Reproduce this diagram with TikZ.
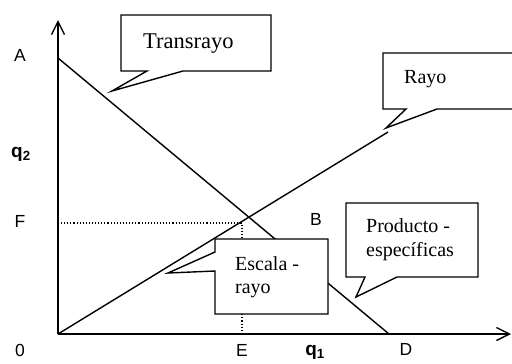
\documentclass[tikz,border=0pt]{standalone}
\usepackage{fontspec}
\setmainfont{Liberation Serif}
\setsansfont{Liberation Sans}
\usetikzlibrary{arrows.meta}
\tikzset{
  axisline/.style={line width=1.4bp, -{Straight Barb[length=13bp,width=13bp,line width=1.4bp]}},
  curveline/.style={line width=1.4bp},
  guide/.style={line width=1.1bp, dotted},
  callout/.style={line width=1.4bp, fill=white, line join=miter},
  calltext/.style={anchor=base west, inner sep=0pt, font=\fontsize{20bp}{24bp}\selectfont, align=left},
  axlabel/.style={inner sep=0pt, font=\sffamily\fontsize{17.5bp}{20bp}\selectfont},
  qlabel/.style={inner sep=0pt, font=\sffamily\bfseries\fontsize{19bp}{21bp}\selectfont},
}
\begin{document}
\begin{tikzpicture}[x=1bp,y=-1bp]
\useasboundingbox (0,0) rectangle (512,363);
\clip (0,0) rectangle (512,363);
% points
\coordinate (O) at (58,334);
\coordinate (Ytop) at (58,20);
\coordinate (Xend) at (511,334);
\coordinate (Apt) at (58,58);
\coordinate (Dpt) at (389,334);
\coordinate (Rend) at (388,132);
\coordinate (Fd) at (58,223);
\coordinate (Bd) at (242,223);
\coordinate (Ed) at (242,334);
% axes
\draw[axisline] (O) -- (Ytop);
\draw[axisline] (O) -- (Xend);
% lines
\draw[curveline] (Apt) -- (Dpt);
\draw[curveline] (O) -- (Rend);
\draw[guide] (Fd) -- (Bd) -- (Ed);
% callouts
\draw[callout] (121,15) -- (271,15) -- (271,71) -- (183,71) -- (112,91) -- (147,71) -- (121,71) -- cycle;
\node[calltext, font=\fontsize{22.5bp}{26bp}\selectfont] (ttrans) at (143,48) {Transrayo};
\draw[callout] (383,53) -- (530,53) -- (530,109) -- (437,109) -- (386,128) -- (406,109) -- (383,109) -- cycle;
\node[calltext] (trayo) at (404,83) {Rayo};
\draw[callout] (215,239) -- (328,239) -- (328,314) -- (215,314) -- (215,271) -- (168,273) -- (215,252) -- cycle;
\node[calltext] (tesc1) at (235,270) {Escala -};
\node[calltext] (tesc2) at (235,293) {rayo};
\draw[callout] (346,203) -- (478,203) -- (478,277) -- (397,277) -- (356,297) -- (365,277) -- (346,277) -- cycle;
\node[calltext] (tprod1) at (366,232) {Producto -};
\node[calltext] (tprod2) at (366,256) {específicas};
% axis labels
\node[axlabel] (lA) at (20,55) {A};
\node[qlabel] (lq2) at (21,154) {q\textsubscript{2}};
\node[axlabel] (lF) at (20,221) {F};
\node[axlabel] (l0) at (20,350) {0};
\node[axlabel] (lE) at (242,350) {E};
\node[qlabel] (lq1) at (315,352) {q\textsubscript{1}};
\node[axlabel] (lD) at (406,349) {D};
\node[axlabel] (lB) at (316,219) {B};
\end{tikzpicture}
\end{document}
